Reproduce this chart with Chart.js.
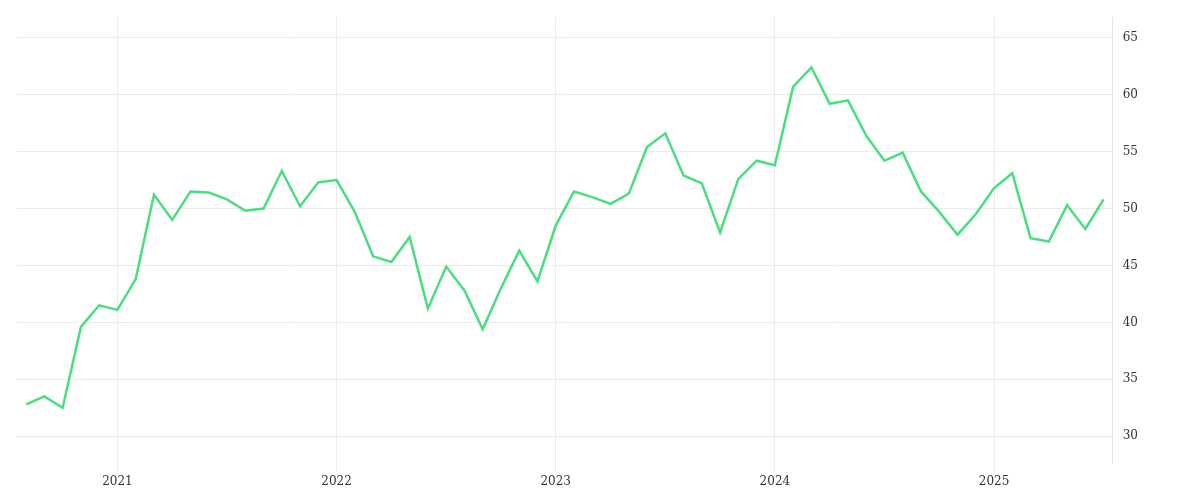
<!DOCTYPE html>
<html>
<head>
<meta charset="utf-8">
<script src="https://cdn.jsdelivr.net/npm/chart.js@4/dist/chart.umd.min.js"></script>
<style>
  html, body { margin: 0; padding: 0; background: #fff; }
  #wrap { width: 1200px; height: 500px; }
</style>
</head>
<body>
<div id="wrap"><canvas id="c"></canvas></div>
<script>
// 月份 2020-08 .. 2025-07
const months = [];
for (let y = 2020; y <= 2025; y++) {
  for (let m = 1; m <= 12; m++) {
    if ((y === 2020 && m < 8) || (y === 2025 && m > 7)) continue;
    months.push(y + '-' + String(m).padStart(2, '0'));
  }
}

const values = [
  32.8, 33.5, 32.5, 39.6, 41.5,
  41.1, 43.8, 51.2, 49.0, 51.5, 51.4, 50.8, 49.8, 50.0, 53.3, 50.2, 52.3,
  52.5, 49.7, 45.8, 45.3, 47.5, 41.2, 44.9, 42.8, 39.4, 43.0, 46.3, 43.6,
  48.5, 51.5, 51.0, 50.4, 51.3, 55.4, 56.6, 52.9, 52.2, 47.9, 52.6, 54.2,
  53.8, 60.7, 62.4, 59.2, 59.5, 56.4, 54.2, 54.9, 51.5, 49.7, 47.7, 49.5,
  51.8, 53.1, 47.4, 47.1, 50.3, 48.2, 50.8
];

const yTicks = [30, 35, 40, 45, 50, 55, 60, 65];

const font = { family: 'DejaVu Serif', size: 12 };

new Chart(document.getElementById('c'), {
  type: 'line',
  data: {
    labels: months,
    datasets: [{
      data: values,
      borderColor: '#4ade80',
      borderWidth: 2.5,
      pointRadius: 0,
      tension: 0,
      fill: false
    }]
  },
  options: {
    responsive: true,
    maintainAspectRatio: false,
    animation: false,
    layout: { padding: { left: 17, top: 6, right: 52, bottom: 8 } },
    plugins: { legend: { display: false }, tooltip: { enabled: false } },
    scales: {
      x: {
        offset: true,
        grid: { color: '#ececec', drawTicks: true, tickLength: 8 },
        border: { display: false },
        ticks: {
          autoSkip: false, maxRotation: 0, color: '#333', font,
          callback: function (v, i) {
            const l = months[i];
            return l.endsWith('-01') ? l.slice(0, 4) : null;
          }
        }
      },
      y: {
        position: 'right',
        min: 27.6,
        max: 66.8,
        afterBuildTicks: axis => { axis.ticks = yTicks.map(v => ({ value: v })); },
        grid: { color: '#ececec', drawTicks: false },
        border: { display: true, color: '#e4e4e4' },
        ticks: { color: '#333', font, padding: 10 }
      }
    }
  }
});
</script>
</body>
</html>
